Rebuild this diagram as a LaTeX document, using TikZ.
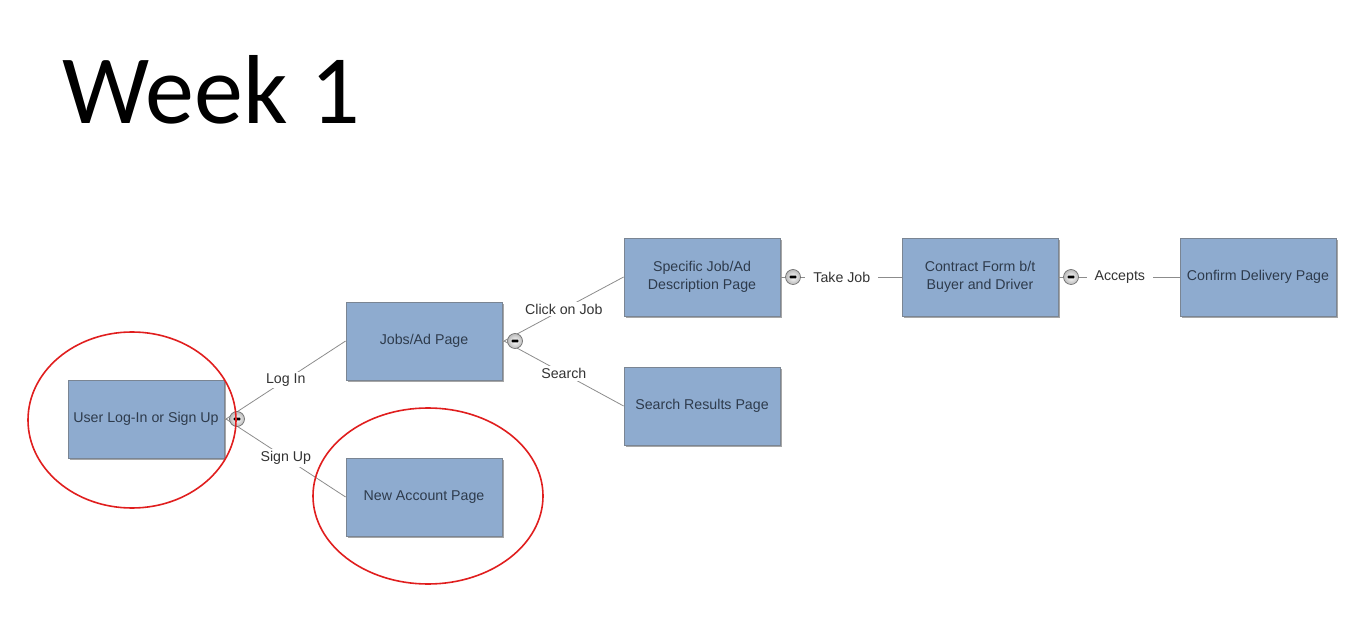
\documentclass[tikz,border=0pt]{standalone}
\usepackage{fontspec}
\setmainfont{Liberation Sans}
\newfontfamily\titlefont{Carlito}
\usetikzlibrary{shadows}
\definecolor{boxfill}{HTML}{8EABCF}
\definecolor{boxline}{HTML}{7A8593}
\definecolor{boxtext}{HTML}{2E3B4C}
\definecolor{linkline}{HTML}{8C8C8C}
\definecolor{labeltext}{HTML}{333333}
\definecolor{ringred}{HTML}{E01E1E}
\tikzset{
  pagebox/.style={draw=boxline, line width=0.8pt, fill=boxfill, minimum width=156pt, minimum height=78pt,
    inner sep=2pt, align=center, text=boxtext, font=\fontsize{14.2}{17.5}\selectfont,
    drop shadow={shadow xshift=1.6pt, shadow yshift=-1.6pt, opacity=0.35, fill=black}},
  link/.style={draw=linkline, line width=0.8pt},
  linklabel/.style={fill=white, inner sep=2pt, text=labeltext, font=\fontsize{14.2}{17}\selectfont},
  toggle/.style={circle, draw=gray!80!black, line width=0.6pt, minimum size=15pt, inner sep=0pt,
    inner color=white, outer color=gray!55,
    path picture={\fill[black, rounded corners=0.8pt] ([xshift=-3.4pt,yshift=-1.4pt]path picture bounding box.center) rectangle ([xshift=3.4pt,yshift=1.4pt]path picture bounding box.center);}},
  ring/.style={draw=ringred, line width=1.6pt},
}
\begin{document}
\begin{tikzpicture}[x=1pt, y=-1pt]
\useasboundingbox (0,0) rectangle (1370,617);
\node[anchor=base west, inner sep=0pt, font=\titlefont\fontsize{98}{110}\selectfont] (title) at (62,124) {Week 1};

\node[pagebox] (user) at (146,419) {User Log-In or Sign Up};
\node[pagebox] (jobs) at (424,341) {Jobs/Ad Page};
\node[pagebox] (newacc) at (424,497) {New Account Page};
\node[pagebox] (spec) at (702,277) {Specific Job/Ad\\Description Page};
\node[pagebox] (search) at (702,406) {Search Results Page};
\node[pagebox] (contract) at (980,277) {Contract Form b/t\\Buyer and Driver};
\node[pagebox] (confirm) at (1258,277) {Confirm Delivery Page};

\coordinate (j1) at (226,419);
\coordinate (j2) at (504,341);
\coordinate (j3) at (782,277);
\coordinate (j4) at (1060,277);

\draw[link] (user.east) -- (j1);
\draw[link] (jobs.east) -- (j2);
\draw[link] (spec.east) -- (j3);
\draw[link] (contract.east) -- (j4);

\draw[link] (j1) -- node[linklabel] (lLogIn) {Log In} (jobs.west);
\draw[link] (j1) -- node[linklabel] (lSignUp) {Sign Up} (newacc.west);
\draw[link] (j2) -- node[linklabel] (lClick) {Click on Job} (spec.west);
\draw[link] (j2) -- node[linklabel] (lSearch) {Search} (search.west);
\draw[link] (j3) -- node[linklabel, inner xsep=8pt] (lTake) {Take Job} (contract.west);
\draw[link] (j4) -- node[linklabel, inner xsep=8pt] (lAccept) {Accepts} (confirm.west);

\node[toggle] (t1) at (237,419) {};
\node[toggle] (t2) at (515,341) {};
\node[toggle] (t3) at (793,277) {};
\node[toggle] (t4) at (1071,277) {};

\draw[ring] (132,420) ellipse [x radius=104, y radius=88];
\draw[ring] (428,496) ellipse [x radius=115, y radius=88];
\end{tikzpicture}
\end{document}
